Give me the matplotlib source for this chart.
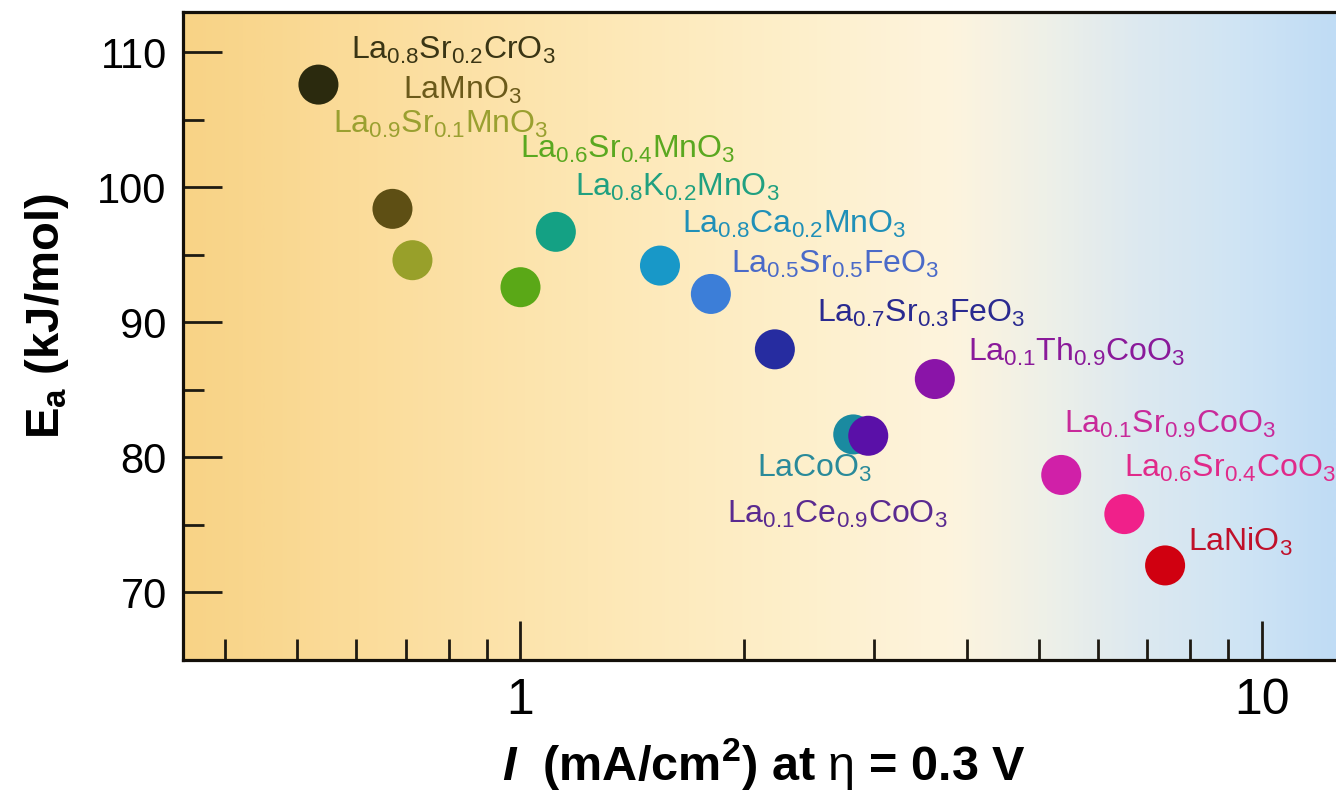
import matplotlib
matplotlib.use("Agg")
import matplotlib.pyplot as plt
import numpy as np
from matplotlib.colors import LinearSegmentedColormap
from matplotlib.ticker import LogLocator, FixedLocator, NullFormatter, FixedFormatter

plt.rcParams['font.family'] = ['Liberation Sans', 'DejaVu Sans']
plt.rcParams['mathtext.fontset'] = 'custom'
plt.rcParams['mathtext.rm'] = 'Liberation Sans'
plt.rcParams['mathtext.it'] = 'Liberation Sans:bold:italic'
plt.rcParams['mathtext.bf'] = 'Liberation Sans:bold'

# current density (mA/cm2) at 0.3 V overpotential and activation energy (kJ/mol)
oxides = ['La0.8Sr0.2CrO3', 'LaMnO3', 'La0.9Sr0.1MnO3', 'La0.6Sr0.4MnO3',
          'La0.8K0.2MnO3', 'La0.8Ca0.2MnO3', 'La0.5Sr0.5FeO3', 'La0.7Sr0.3FeO3',
          'La0.1Th0.9CoO3', 'LaCoO3', 'La0.1Ce0.9CoO3', 'La0.1Sr0.9CoO3',
          'La0.6Sr0.4CoO3', 'LaNiO3']
labels = [r'$\mathregular{La_{0.8}Sr_{0.2}CrO_3}$', r'$\mathregular{LaMnO_3}$',
          r'$\mathregular{La_{0.9}Sr_{0.1}MnO_3}$', r'$\mathregular{La_{0.6}Sr_{0.4}MnO_3}$',
          r'$\mathregular{La_{0.8}K_{0.2}MnO_3}$', r'$\mathregular{La_{0.8}Ca_{0.2}MnO_3}$',
          r'$\mathregular{La_{0.5}Sr_{0.5}FeO_3}$', r'$\mathregular{La_{0.7}Sr_{0.3}FeO_3}$',
          r'$\mathregular{La_{0.1}Th_{0.9}CoO_3}$', r'$\mathregular{LaCoO_3}$',
          r'$\mathregular{La_{0.1}Ce_{0.9}CoO_3}$', r'$\mathregular{La_{0.1}Sr_{0.9}CoO_3}$',
          r'$\mathregular{La_{0.6}Sr_{0.4}CoO_3}$', r'$\mathregular{LaNiO_3}$']
current = [0.534, 0.672, 0.715, 1.0, 1.116, 1.542, 1.806, 2.203,
           3.62, 2.81, 2.944, 5.36, 6.52, 7.40]
ea = [107.6, 98.4, 94.6, 92.6, 96.7, 94.2, 92.1, 88.0,
      85.8, 81.7, 81.6, 78.7, 75.8, 72.0]

dot_colors = ['#2b2a0e', '#5e4f14', '#98a02a', '#5aa817', '#14a184', '#1898c8',
              '#3c7ed8', '#262ca0', '#8a14a8', '#1a8aa0', '#5a10a8', '#d020a8',
              '#f0208a', '#d00010']
text_colors = ['#3a3514', '#6b5a1a', '#9aa030', '#5aa820', '#20a080', '#2090b8',
               '#4a6ac8', '#2a2a90', '#8a1a9a', '#2a8a9a', '#5a2a90', '#c82a9a',
               '#e02a8a', '#c0102a']
# label offsets from each dot, in pixels
label_dx = [33, 11, -79, 0, 19, 22, 20, 42, 33, -96, -141, 3, 0, 23]
label_dy = [26, 110, 127, 129, 36, 33, 21, 27, 18, -42, -87, 42, 37, 15]

fig = plt.figure(figsize=(13.36, 7.94), dpi=100)
pos = [0.1372, 0.1688, 0.8628, 0.8165]

# background colour band
bg = fig.add_axes(pos, zorder=0)
bg_cmap = LinearSegmentedColormap.from_list('band', [
    (0.00, '#f8d386'), (0.15, '#fbdc9a'), (0.35, '#fde7b4'), (0.55, '#fef0cd'),
    (0.67, '#fdf4de'), (0.75, '#eef0e8'), (0.83, '#dde9f0'), (0.92, '#cfe4f4'),
    (1.00, '#c0dcf5')])
bg.imshow(np.linspace(0, 1, 600)[None, :], cmap=bg_cmap, aspect='auto',
          extent=[0, 1, 0, 1])
bg.axis('off')

ax = fig.add_axes(pos, zorder=1)
ax.set_facecolor('none')
ax.set_xscale('log')
ax.set_xlim(0.351, 12.58)
ax.set_ylim(65, 113)

ax.scatter(current, ea, s=830, c=dot_colors, linewidths=0, zorder=3)
for i in range(len(oxides)):
    ax.annotate(labels[i], (current[i], ea[i]), xytext=(label_dx[i], label_dy[i]),
                textcoords='offset pixels', ha='left', va='baseline',
                fontsize=23, color=text_colors[i], zorder=4, annotation_clip=False)

ax.xaxis.set_major_locator(FixedLocator([1, 10]))
ax.xaxis.set_major_formatter(FixedFormatter(['1', '10']))
ax.xaxis.set_minor_locator(LogLocator(base=10, subs=np.arange(2, 10)))
ax.xaxis.set_minor_formatter(NullFormatter())
ax.set_yticks([70, 80, 90, 100, 110])
ax.set_yticks([75, 85, 95, 105], minor=True)

ax.tick_params(which='both', direction='in', color='#1e1a12', width=2)
ax.tick_params(which='major', length=28)
ax.tick_params(which='minor', length=15)
ax.tick_params(axis='y', which='major', labelsize=30, pad=12)
ax.tick_params(axis='x', which='major', labelsize=36, pad=13)
ax.tick_params(top=False, right=False, which='both')

for side in ['left', 'bottom', 'top']:
    ax.spines[side].set_linewidth(2.3)
    ax.spines[side].set_color('#14100a')
ax.spines['right'].set_visible(False)

ax.set_ylabel(r'$\mathregular{E_a}$ (kJ/mol)', fontsize=34, fontweight='bold',
              va='center')
ax.yaxis.set_label_coords(-0.118, 0.53)
ax.set_xlabel(r'$I$  (mA/cm$^\mathregular{2}$) at $\mathrm{\eta}$ = 0.3 V',
              fontsize=35, fontweight='bold', va='center')
ax.xaxis.set_label_coords(0.504, -0.16)

fig.savefig('out.png', dpi=100)
